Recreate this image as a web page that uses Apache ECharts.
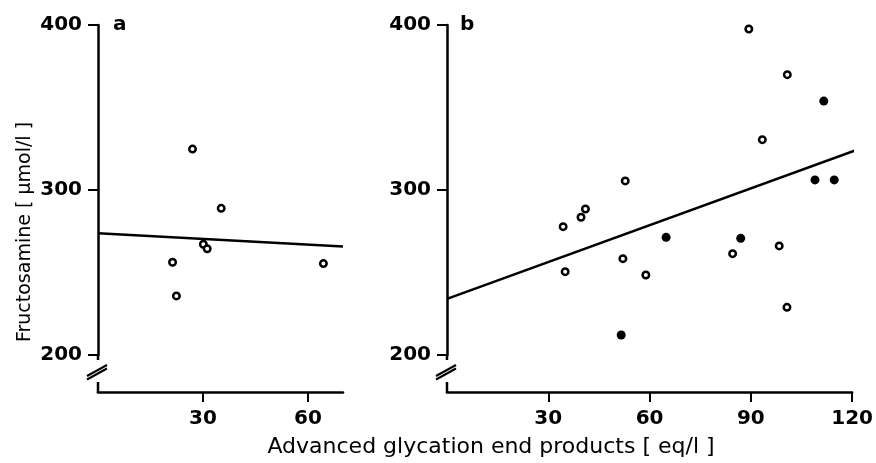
<!DOCTYPE html>
<html>
<head>
<meta charset="utf-8">
<title>Fructosamine vs AGE</title>
<script src="https://cdn.jsdelivr.net/npm/echarts@6/dist/echarts.min.js"></script>
<style>
  html, body { margin: 0; padding: 0; background: #fff; }
  #main { width: 876px; height: 463px; }
</style>
</head>
<body>
<div id="main"></div>
<script>
// data
var yTicks = [200, 300, 400];
var xTicksA = [30, 60];
var xTicksB = [30, 60, 90, 120];

var pointsA = [[27.0, 324.8], [35.2, 288.9], [30.1, 267.1], [31.2, 264.4], [21.3, 256.2], [22.4, 235.8], [64.4, 255.4]];
var lineA = [[0, 273.8], [70, 265.8]];

var openB = [[89.4, 397.6], [100.8, 369.9], [93.4, 330.5], [52.8, 305.5], [41.0, 288.5], [39.7, 283.5], [34.4, 277.8],
             [98.4, 266.1], [84.6, 261.4], [52.1, 258.4], [35.0, 250.5], [58.9, 248.5], [100.7, 228.9]];
var filledB = [[111.6, 353.9], [109.0, 306.1], [114.7, 306.1], [64.9, 271.3], [87.0, 270.7], [51.6, 212.1]];
var lineB = [[0, 234], [121, 324]];

var FONT = 'DejaVu Sans';
var chart = echarts.init(document.getElementById('main'));

function yAxisOpt(idx) {
    return {
        gridIndex: idx, type: 'value', min: yTicks[0], max: yTicks[yTicks.length - 1], interval: 100,
        splitLine: { show: false },
        axisLine: { show: true, lineStyle: { color: '#000', width: 2.5 } },
        axisTick: { show: true, length: 10, lineStyle: { color: '#000', width: 2 } },
        axisLabel: { color: '#000', fontSize: 20, fontFamily: FONT, fontWeight: 'bold', margin: 16 }
    };
}
function xAxisOpt(idx, max, ticks) {
    return {
        gridIndex: idx, type: 'value', min: 0, max: max, interval: 30, offset: 37,
        splitLine: { show: false },
        axisLine: { show: true, lineStyle: { color: '#000', width: 2.5 } },
        axisTick: { show: true, length: 10, customValues: ticks, lineStyle: { color: '#000', width: 2 } },
        axisLabel: { color: '#000', fontSize: 20, fontFamily: FONT, fontWeight: 'bold', margin: 17, customValues: ticks }
    };
}

var openStyle = { color: '#fff', borderColor: '#000', borderWidth: 2.5, opacity: 1 };

var option = {
    animation: false,
    backgroundColor: '#fff',
    grid: [
        { left: 98, top: 25, width: 245, height: 330 },
        { left: 447, top: 25, width: 414, height: 330 }
    ],
    xAxis: [xAxisOpt(0, 70, xTicksA), xAxisOpt(1, 120, xTicksB)],
    yAxis: [yAxisOpt(0), yAxisOpt(1)],
    series: [
        { type: 'line', xAxisIndex: 0, yAxisIndex: 0, data: lineA, showSymbol: false, clip: false,
          lineStyle: { color: '#000', width: 2.5 } },
        { type: 'scatter', xAxisIndex: 0, yAxisIndex: 0, data: pointsA, symbolSize: 6.5, itemStyle: openStyle },
        { type: 'line', xAxisIndex: 1, yAxisIndex: 1, data: lineB, showSymbol: false, clip: false,
          lineStyle: { color: '#000', width: 2.5 } },
        { type: 'scatter', xAxisIndex: 1, yAxisIndex: 1, data: openB, symbolSize: 6.5, itemStyle: openStyle },
        { type: 'scatter', xAxisIndex: 1, yAxisIndex: 1, data: filledB, symbolSize: 9,
          itemStyle: { color: '#000', opacity: 1 } }
    ]
};
chart.setOption(option);

// axis breaks, panel letters and axis titles
var g = [];
[0, 1].forEach(function (i) {
    var p0 = chart.convertToPixel({ gridIndex: i }, [0, 200]);
    var ax = p0[0], ay = p0[1];
    var lineStyle = { stroke: '#000', lineWidth: 2.5 };
    g.push({ type: 'line', shape: { x1: ax, y1: ay, x2: ax, y2: ay + 5 }, style: lineStyle });
    g.push({ type: 'line', shape: { x1: ax, y1: ay + 27, x2: ax, y2: ay + 38 }, style: lineStyle });
    g.push({ type: 'line', shape: { x1: ax - 11, y1: ay + 21, x2: ax + 9, y2: ay + 10 }, style: { stroke: '#000', lineWidth: 2 } });
    g.push({ type: 'line', shape: { x1: ax - 11, y1: ay + 24.5, x2: ax + 9, y2: ay + 13.5 }, style: { stroke: '#000', lineWidth: 2 } });
    var pTop = chart.convertToPixel({ gridIndex: i }, [0, 400]);
    g.push({ type: 'text', x: pTop[0] + (i === 0 ? 15 : 13), y: pTop[1] - 10,
             style: { text: i === 0 ? 'a' : 'b', font: 'bold 20px ' + FONT, fill: '#000' } });
});
g.push({ type: 'text', x: 491, y: 447,
         style: { text: 'Advanced glycation end products [ eq/l ]', font: '22px ' + FONT, fill: '#000',
                  align: 'center', verticalAlign: 'middle' } });
g.push({ type: 'text', x: 25, y: 232, rotation: Math.PI / 2,
         style: { text: 'Fructosamine [ µmol/l ]', font: '19px ' + FONT, fill: '#000',
                  align: 'center', verticalAlign: 'middle' } });
chart.setOption({ graphic: g });
</script>
</body>
</html>
